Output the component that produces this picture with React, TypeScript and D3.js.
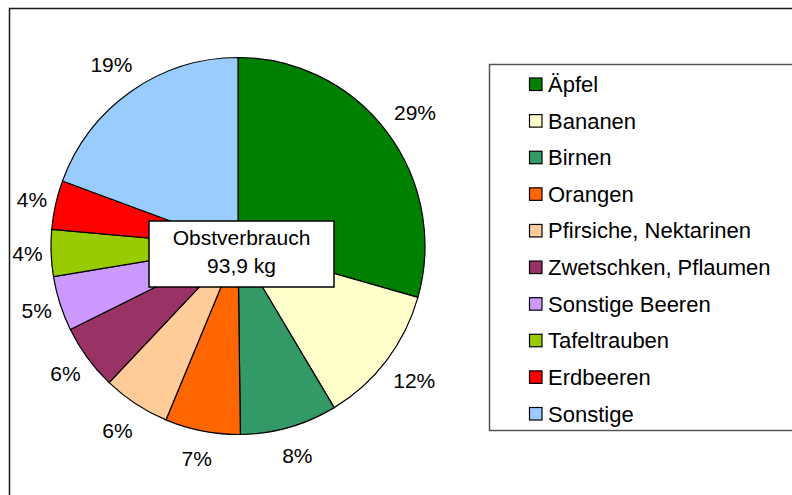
import React from "react";
import * as d3 from "d3";

const categories = [
  "Äpfel",
  "Bananen",
  "Birnen",
  "Orangen",
  "Pfirsiche, Nektarinen",
  "Zwetschken, Pflaumen",
  "Sonstige Beeren",
  "Tafeltrauben",
  "Erdbeeren",
  "Sonstige",
];
const shares = [29.4, 12.0, 8.4, 6.5, 5.8, 5.6, 4.7, 4.0, 4.2, 19.4];
const colors = [
  "#008000",
  "#FFFFCC",
  "#339966",
  "#FF6600",
  "#FFCC99",
  "#993366",
  "#CC99FF",
  "#99CC00",
  "#FF0000",
  "#99CCFF",
];
const centerLines = ["Obstverbrauch", "93,9 kg"];

const W = 792;
const H = 495;
const FONT = "'Liberation Sans', Arial, sans-serif";
const FS = 21;
const LFS = 22;

export default function App() {
  const cx = 238;
  const cy = 246;
  const R = 187;
  const pie = d3
    .pie<number>()
    .sort(null)
    .value((d) => d)
    .startAngle(0)
    .endAngle(2 * Math.PI);
  const arcs = pie(shares);
  const arc = d3.arc<d3.PieArcDatum<number>>().innerRadius(0).outerRadius(R);

  const labelPos = (a: d3.PieArcDatum<number>, text: string) => {
    const t = (a.startAngle + a.endAngle) / 2;
    const s = Math.sin(t);
    const c = Math.cos(t);
    let w = 0;
    for (const ch of text) w += ch === "%" ? 0.889 : 0.556;
    w *= FS;
    const ha = w / 2;
    const hb = 21;
    const edge = Math.min(
      Math.abs(s) > 1e-6 ? ha / Math.abs(s) : Infinity,
      Math.abs(c) > 1e-6 ? hb / Math.abs(c) : Infinity
    );
    const dist = R + 8.5 + edge;
    return [cx + dist * s, cy - dist * c];
  };

  const legend = { x: 489, y: 64, w: 420, h: 366 };
  const rowY = d3
    .scalePoint<string>()
    .domain(categories)
    .range([84.5, 414]);

  const box = { x: 149, y: 221, w: 185, h: 66 };

  return (
    <svg
      width={W}
      height={H}
      style={{ position: "absolute", left: 0, top: 0, display: "block" }}
      fontFamily={FONT}
    >
      <rect x={0} y={0} width={W} height={H} fill="#ffffff" />
      <rect
        x={9.5}
        y={8.5}
        width={W + 20}
        height={H + 20}
        fill="#ffffff"
        stroke="#1a1a1a"
        strokeWidth={1.5}
      />
      <g transform={`translate(${cx},${cy}) scale(1,1.008)`}>
        {arcs.map((a, i) => (
          <path
            key={categories[i]}
            d={arc(a) || ""}
            fill={colors[i]}
            stroke="#000"
            strokeWidth={1.2}
            strokeLinejoin="round"
          />
        ))}
      </g>
      {arcs.map((a, i) => {
        const txt = `${Math.round(shares[i])}%`;
        const [x, y] = labelPos(a, txt);
        return (
          <text
            key={"l" + i}
            x={x}
            y={y}
            textAnchor="middle"
            dominantBaseline="central"
            fontSize={FS}
            fill="#000"
          >
            {txt}
          </text>
        );
      })}
      <rect
        x={box.x}
        y={box.y}
        width={box.w}
        height={box.h}
        fill="#ffffff"
        stroke="#000"
        strokeWidth={1.5}
      />
      {centerLines.map((l, i) => (
        <text
          key={l}
          x={box.x + box.w / 2}
          y={245 + i * 27.7}
          textAnchor="middle"
          fontSize={FS}
          fill="#000"
        >
          {l}
        </text>
      ))}
      <rect
        x={legend.x + 0.5}
        y={legend.y + 0.5}
        width={legend.w}
        height={legend.h}
        fill="#ffffff"
        stroke="#555"
        strokeWidth={1.5}
      />
      {categories.map((c, i) => {
        const y = rowY(c) as number;
        return (
          <g key={"lg" + c}>
            <rect
              x={529.5}
              y={y - 6.5}
              width={12.5}
              height={12.5}
              fill={colors[i]}
              stroke="#000"
              strokeWidth={1.2}
            />
            <text x={548} y={y + 7.5} fontSize={LFS} fill="#000">
              {c}
            </text>
          </g>
        );
      })}
    </svg>
  );
}
